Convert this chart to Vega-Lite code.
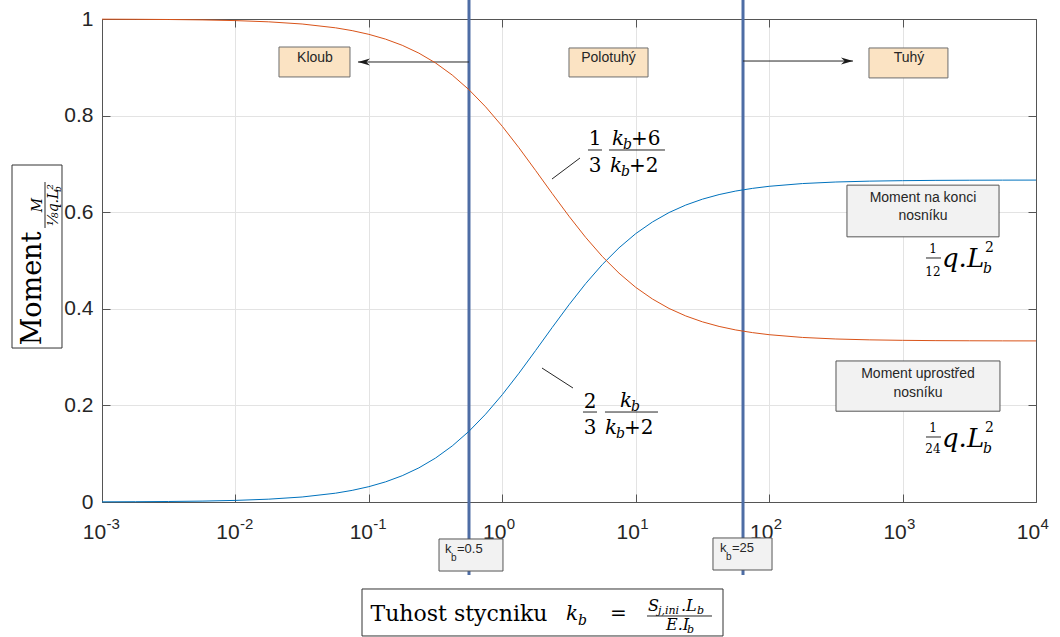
{
  "$schema": "https://vega.github.io/schema/vega-lite/v6.json",
  "width": 934,
  "height": 483,
  "autosize": {"type": "none"},
  "padding": {"left": 102, "top": 19, "right": 24, "bottom": 135},
  "background": "white",
  "config": {"view": {"stroke": null}},
  "datasets": {
    "curves": [
      {"k":0.001,"v":0.000333,"s":"konec"},{"k":0.001778,"v":0.000592,"s":"konec"},{"k":0.003162,"v":0.001053,"s":"konec"},{"k":0.005623,"v":0.001871,"s":"konec"},
      {"k":0.01,"v":0.003317,"s":"konec"},{"k":0.01778,"v":0.005876,"s":"konec"},{"k":0.03162,"v":0.01038,"s":"konec"},{"k":0.05623,"v":0.01823,"s":"konec"},
      {"k":0.07499,"v":0.0241,"s":"konec"},{"k":0.1,"v":0.03175,"s":"konec"},{"k":0.1334,"v":0.04169,"s":"konec"},{"k":0.1778,"v":0.05443,"s":"konec"},
      {"k":0.2371,"v":0.07066,"s":"konec"},{"k":0.3162,"v":0.09101,"s":"konec"},{"k":0.4217,"v":0.1161,"s":"konec"},{"k":0.5623,"v":0.1463,"s":"konec"},
      {"k":0.7499,"v":0.1818,"s":"konec"},{"k":1,"v":0.2222,"s":"konec"},{"k":1.334,"v":0.2667,"s":"konec"},{"k":1.778,"v":0.3137,"s":"konec"},
      {"k":2.371,"v":0.3616,"s":"konec"},{"k":3.162,"v":0.4083,"s":"konec"},{"k":4.217,"v":0.4522,"s":"konec"},{"k":5.623,"v":0.4918,"s":"konec"},
      {"k":7.499,"v":0.5263,"s":"konec"},{"k":10,"v":0.5556,"s":"konec"},{"k":13.34,"v":0.5797,"s":"konec"},{"k":17.78,"v":0.5993,"s":"konec"},
      {"k":23.71,"v":0.6148,"s":"konec"},{"k":31.62,"v":0.627,"s":"konec"},{"k":42.17,"v":0.6365,"s":"konec"},{"k":56.23,"v":0.6438,"s":"konec"},
      {"k":74.99,"v":0.6493,"s":"konec"},{"k":100,"v":0.6536,"s":"konec"},{"k":177.8,"v":0.6593,"s":"konec"},{"k":316.2,"v":0.6625,"s":"konec"},
      {"k":562.3,"v":0.6643,"s":"konec"},{"k":1000,"v":0.6653,"s":"konec"},{"k":1778,"v":0.6659,"s":"konec"},{"k":3162,"v":0.6662,"s":"konec"},
      {"k":5623,"v":0.6664,"s":"konec"},{"k":10000,"v":0.6665,"s":"konec"},
      {"k":0.001,"v":0.999667,"s":"uprostred"},{"k":0.001778,"v":0.999408,"s":"uprostred"},{"k":0.003162,"v":0.998947,"s":"uprostred"},{"k":0.005623,"v":0.998129,"s":"uprostred"},
      {"k":0.01,"v":0.996683,"s":"uprostred"},{"k":0.01778,"v":0.994124,"s":"uprostred"},{"k":0.03162,"v":0.98962,"s":"uprostred"},{"k":0.05623,"v":0.98177,"s":"uprostred"},
      {"k":0.07499,"v":0.9759,"s":"uprostred"},{"k":0.1,"v":0.96825,"s":"uprostred"},{"k":0.1334,"v":0.95831,"s":"uprostred"},{"k":0.1778,"v":0.94557,"s":"uprostred"},
      {"k":0.2371,"v":0.92934,"s":"uprostred"},{"k":0.3162,"v":0.90899,"s":"uprostred"},{"k":0.4217,"v":0.8839,"s":"uprostred"},{"k":0.5623,"v":0.8537,"s":"uprostred"},
      {"k":0.7499,"v":0.8182,"s":"uprostred"},{"k":1,"v":0.7778,"s":"uprostred"},{"k":1.334,"v":0.7333,"s":"uprostred"},{"k":1.778,"v":0.6863,"s":"uprostred"},
      {"k":2.371,"v":0.6384,"s":"uprostred"},{"k":3.162,"v":0.5917,"s":"uprostred"},{"k":4.217,"v":0.5478,"s":"uprostred"},{"k":5.623,"v":0.5082,"s":"uprostred"},
      {"k":7.499,"v":0.4737,"s":"uprostred"},{"k":10,"v":0.4444,"s":"uprostred"},{"k":13.34,"v":0.4203,"s":"uprostred"},{"k":17.78,"v":0.4007,"s":"uprostred"},
      {"k":23.71,"v":0.3852,"s":"uprostred"},{"k":31.62,"v":0.373,"s":"uprostred"},{"k":42.17,"v":0.3635,"s":"uprostred"},{"k":56.23,"v":0.3562,"s":"uprostred"},
      {"k":74.99,"v":0.3507,"s":"uprostred"},{"k":100,"v":0.3464,"s":"uprostred"},{"k":177.8,"v":0.3407,"s":"uprostred"},{"k":316.2,"v":0.3375,"s":"uprostred"},
      {"k":562.3,"v":0.3357,"s":"uprostred"},{"k":1000,"v":0.3347,"s":"uprostred"},{"k":1778,"v":0.3341,"s":"uprostred"},{"k":3162,"v":0.3338,"s":"uprostred"},
      {"k":5623,"v":0.3336,"s":"uprostred"},{"k":10000,"v":0.3335,"s":"uprostred"}
    ],
    "vlines": [{"k":0.563,"v":-0.151,"v2":1.04},{"k":63.7,"v":-0.151,"v2":1.04}],
    "rectsOrange": [
      {"k":0.02121,"k2":0.07222,"v":0.88,"v2":0.942},
      {"k":3.162,"k2":12.37,"v":0.88,"v2":0.94},
      {"k":560,"k2":2188,"v":0.878,"v2":0.94}
    ],
    "rectsGrey": [
      {"k":383,"k2":5284,"v":0.549,"v2":0.656},
      {"k":317,"k2":5370,"v":0.188,"v2":0.292},
      {"k":0.3356,"k2":1.012,"v":-0.1429,"v2":-0.0766},
      {"k":37.94,"k2":105.1,"v":-0.1408,"v2":-0.0745}
    ],
    "rectsFrame": [
      {"k":0.08884,"k2":45.1,"v":-0.2774,"v2":-0.1801},
      {"k":0.0002116,"k2":0.0005013,"v":0.3188,"v2":0.6977}
    ],
    "thinRules": [
      {"k":4.389,"k2":5.588,"v":0.7288,"v2":0.7288},
      {"k":6.306,"k2":16.57,"v":0.7288,"v2":0.7288},
      {"k":4.026,"k2":5.127,"v":0.1863,"v2":0.1863},
      {"k":5.884,"k2":14.69,"v":0.1863,"v2":0.1863},
      {"k":1498,"k2":1941,"v":0.5052,"v2":0.5052},
      {"k":1498,"k2":1941,"v":0.1346,"v2":0.1346},
      {"k":12.15,"k2":37.29,"v":-0.236,"v2":-0.236},
      {"k":0.000374,"k2":0.000374,"v":0.5673,"v2":0.6625},
      {"k":2.358,"k2":3.823,"v":0.6687,"v2":0.7122},
      {"k":1.984,"k2":3.388,"v":0.2774,"v2":0.236},
      {"k":0.0829,"k2":0.563,"v":0.911,"v2":0.911},
      {"k":63.7,"k2":425,"v":0.913,"v2":0.913}
    ],
    "arrowHeads": [{"k":0.0829,"v":0.911,"dir":"left"},{"k":425,"v":0.913,"dir":"right"}],
    "boxLabels": [
      {"k":0.03948,"v":0.911,"t":"Kloub"},
      {"k":6.25,"v":0.911,"t":"Polotuhý"},
      {"k":1117,"v":0.911,"t":"Tuhý"},
      {"k":1422,"v":0.6211,"t":"Moment na konci"},
      {"k":1422,"v":0.5839,"t":"nosníku"},
      {"k":1305,"v":0.2567,"t":"Moment uprostřed"},
      {"k":1305,"v":0.2174,"t":"nosníku"}
    ],
    "kbMain": [
      {"k":0.3721,"v":-0.1056,"t":"k"},{"k":0.4577,"v":-0.1056,"t":"=0.5"},
      {"k":42.82,"v":-0.1035,"t":"k"},{"k":52.68,"v":-0.1035,"t":"=25"}
    ],
    "kbSub": [{"k":0.4127,"v":-0.1222,"t":"b"},{"k":47.5,"v":-0.1201,"t":"b"}],
    "mathR20c": [
      {"k":4.953,"v":0.7391,"t":"1"},{"k":4.953,"v":0.6832,"t":"3"},
      {"k":4.544,"v":0.1946,"t":"2"},{"k":4.544,"v":0.1408,"t":"3"}
    ],
    "mathR20l": [
      {"k":9.218,"v":0.7391,"t":"+6"},{"k":8.906,"v":0.6832,"t":"+2"},
      {"k":8.17,"v":0.1408,"t":"+2"},{"k":6.416,"v":-0.2443,"t":"="}
    ],
    "mathI20l": [
      {"k":6.642,"v":0.7391,"t":"k"},{"k":6.416,"v":0.6832,"t":"k"},
      {"k":7.623,"v":0.1967,"t":"k"},{"k":5.884,"v":0.1408,"t":"k"},
      {"k":3.003,"v":-0.2443,"t":"k"}
    ],
    "mathI14l": [
      {"k":8.029,"v":0.7308,"t":"b"},{"k":7.756,"v":0.6749,"t":"b"},
      {"k":9.218,"v":0.1884,"t":"b"},{"k":7.114,"v":0.1325,"t":"b"},
      {"k":3.693,"v":-0.2547,"t":"b"},
      {"k":4007,"v":0.4741,"t":"b"},{"k":4007,"v":0.1014,"t":"b"}
    ],
    "mathR12c": [
      {"k":1690,"v":0.5155,"t":"1"},{"k":1690,"v":0.4679,"t":"12"},
      {"k":1690,"v":0.1449,"t":"1"},{"k":1690,"v":0.1014,"t":"24"}
    ],
    "mathI26l": [{"k":1974,"v":0.4865,"t":"q.L"},{"k":1974,"v":0.1139,"t":"q.L"}],
    "mathR14l": [{"k":4147,"v":0.5176,"t":"2"},{"k":4147,"v":0.1449,"t":"2"}],
    "mathI16l": [
      {"k":12.36,"v":-0.2257,"t":"S"},{"k":21.84,"v":-0.2257,"t":".L"},
      {"k":16.86,"v":-0.265,"t":"E.I"}
    ],
    "mathI11l": [
      {"k":14.69,"v":-0.2319,"t":"j,ini"},{"k":28.8,"v":-0.2319,"t":"b"},
      {"k":24.23,"v":-0.2712,"t":"b"}
    ],
    "yFrac": [{"k":0.0003551,"v":0.6149,"t":"M"},{"k":0.000468,"v":0.6149,"t":"⅛q.L²"}],
    "yFracSub": [{"k":0.0004928,"v":0.648,"t":"b"}]
  },
  "resolve": {"axis": {"x": "independent", "y": "independent"}},
  "layer": [
    {
      "data": {"name": "vlines"},
      "mark": {"type": "rule", "color": "#4E6DA5", "strokeWidth": 3},
      "encoding": {
        "x": {
          "field": "k", "type": "quantitative",
          "scale": {"type": "log", "domain": [0.001, 10000]},
          "axis": {
            "orient": "bottom",
            "values": [0.001, 0.01, 0.1, 1, 10, 100, 1000, 10000],
            "labelExpr": "['-3','-2','-1','0','1','2','3','4'][round(log(datum.value)/LN10)+3]",
            "grid": false, "domain": false, "ticks": false,
            "labelPadding": 26, "labelBaseline": "alphabetic", "labelAlign": "left", "labelOffset": 4,
            "labelFont": "Liberation Sans", "labelFontSize": 15, "labelColor": "#262626",
            "labelFlush": false, "labelOverlap": false, "title": null
          }
        },
        "y": {"field": "v", "type": "quantitative", "scale": {"domain": [0, 1], "nice": false, "zero": false}, "axis": null},
        "y2": {"field": "v2"}
      }
    },
    {
      "encoding": {
        "x": {
          "field": "k", "type": "quantitative",
          "scale": {"type": "log", "domain": [0.001, 10000]},
          "axis": {
            "orient": "bottom",
            "values": [0.001, 0.01, 0.1, 1, 10, 100, 1000, 10000],
            "labelExpr": "'10'",
            "grid": true, "gridColor": "#e3e3e3",
            "tickSize": -8, "tickColor": "#555", "domainColor": "#555",
            "labelPadding": 44, "labelBaseline": "alphabetic", "labelOffset": -8,
            "labelFont": "Liberation Sans", "labelFontSize": 21, "labelColor": "#262626",
            "labelFlush": false, "labelOverlap": false,
            "title": "Tuhost stycniku", "titleX": 268, "titleY": 118,
            "titleAlign": "left", "titleBaseline": "alphabetic",
            "titleFont": "DejaVu Serif", "titleFontSize": 22, "titleFontWeight": "normal", "titleColor": "#000"
          }
        },
        "y": {
          "field": "v", "type": "quantitative",
          "scale": {"domain": [0, 1], "nice": false, "zero": false},
          "axis": {
            "orient": "left",
            "values": [0, 0.2, 0.4, 0.6, 0.8, 1], "format": "~g",
            "grid": true, "gridColor": "#e3e3e3",
            "tickSize": -8, "tickColor": "#555", "domainColor": "#555",
            "labelPadding": 17, "labelFont": "Liberation Sans", "labelFontSize": 21, "labelColor": "#262626",
            "labelFlush": false, "labelOverlap": false,
            "title": "Moment", "titleX": -62, "titleY": 269, "titleAngle": 270,
            "titleAlign": "center", "titleBaseline": "alphabetic",
            "titleFont": "DejaVu Serif", "titleFontSize": 27, "titleFontWeight": "normal", "titleColor": "#000"
          }
        }
      },
      "layer": [
        {"data": {"name": "rectsOrange"}, "mark": {"type": "rect", "fill": "#FBE3C3", "stroke": "#6e6e6e", "strokeWidth": 1}, "encoding": {"x2": {"field": "k2"}, "y2": {"field": "v2"}}},
        {"data": {"name": "rectsGrey"}, "mark": {"type": "rect", "fill": "#F2F2F2", "stroke": "#555", "strokeWidth": 1}, "encoding": {"x2": {"field": "k2"}, "y2": {"field": "v2"}}},
        {"data": {"name": "rectsFrame"}, "mark": {"type": "rect", "filled": false, "stroke": "#333", "strokeWidth": 1}, "encoding": {"x2": {"field": "k2"}, "y2": {"field": "v2"}}},
        {"data": {"name": "thinRules"}, "mark": {"type": "rule", "color": "#262626", "strokeWidth": 1}, "encoding": {"x2": {"field": "k2"}, "y2": {"field": "v2"}}},
        {"data": {"name": "arrowHeads"}, "mark": {"type": "point", "filled": true, "color": "#1a1a1a", "opacity": 1, "size": 576, "strokeWidth": 0},
         "encoding": {"shape": {"field": "dir", "type": "nominal", "scale": {"domain": ["left", "right"], "range": ["M 0 0 L 1 -0.3 L 0.7 0 L 1 0.3 Z", "M 0 0 L -1 -0.3 L -0.7 0 L -1 0.3 Z"]}, "legend": null}}},
        {"data": {"name": "boxLabels"}, "mark": {"type": "text", "font": "Liberation Sans", "fontSize": 14, "align": "center", "baseline": "alphabetic", "color": "#262626"}, "encoding": {"text": {"field": "t"}}},
        {"data": {"name": "kbMain"}, "mark": {"type": "text", "font": "Liberation Sans", "fontSize": 13, "align": "left", "baseline": "alphabetic", "color": "#262626"}, "encoding": {"text": {"field": "t"}}},
        {"data": {"name": "kbSub"}, "mark": {"type": "text", "font": "Liberation Sans", "fontSize": 10, "align": "left", "baseline": "alphabetic", "color": "#262626"}, "encoding": {"text": {"field": "t"}}},
        {"data": {"name": "mathR20c"}, "mark": {"type": "text", "font": "DejaVu Serif", "fontSize": 20, "align": "center", "baseline": "alphabetic", "color": "#000"}, "encoding": {"text": {"field": "t"}}},
        {"data": {"name": "mathR20l"}, "mark": {"type": "text", "font": "DejaVu Serif", "fontSize": 20, "align": "left", "baseline": "alphabetic", "color": "#000"}, "encoding": {"text": {"field": "t"}}},
        {"data": {"name": "mathI20l"}, "mark": {"type": "text", "font": "DejaVu Serif", "fontStyle": "italic", "fontSize": 20, "align": "left", "baseline": "alphabetic", "color": "#000"}, "encoding": {"text": {"field": "t"}}},
        {"data": {"name": "mathI14l"}, "mark": {"type": "text", "font": "DejaVu Serif", "fontStyle": "italic", "fontSize": 14, "align": "left", "baseline": "alphabetic", "color": "#000"}, "encoding": {"text": {"field": "t"}}},
        {"data": {"name": "mathR12c"}, "mark": {"type": "text", "font": "DejaVu Serif", "fontSize": 12, "align": "center", "baseline": "alphabetic", "color": "#000"}, "encoding": {"text": {"field": "t"}}},
        {"data": {"name": "mathI26l"}, "mark": {"type": "text", "font": "DejaVu Serif", "fontStyle": "italic", "fontSize": 26, "align": "left", "baseline": "alphabetic", "color": "#000"}, "encoding": {"text": {"field": "t"}}},
        {"data": {"name": "mathR14l"}, "mark": {"type": "text", "font": "DejaVu Serif", "fontSize": 14, "align": "left", "baseline": "alphabetic", "color": "#000"}, "encoding": {"text": {"field": "t"}}},
        {"data": {"name": "mathI16l"}, "mark": {"type": "text", "font": "DejaVu Serif", "fontStyle": "italic", "fontSize": 16, "align": "left", "baseline": "alphabetic", "color": "#000"}, "encoding": {"text": {"field": "t"}}},
        {"data": {"name": "mathI11l"}, "mark": {"type": "text", "font": "DejaVu Serif", "fontStyle": "italic", "fontSize": 11, "align": "left", "baseline": "alphabetic", "color": "#000"}, "encoding": {"text": {"field": "t"}}},
        {"data": {"name": "yFrac"}, "mark": {"type": "text", "font": "DejaVu Serif", "fontStyle": "italic", "fontSize": 14, "angle": 270, "align": "center", "baseline": "alphabetic", "color": "#000"}, "encoding": {"text": {"field": "t"}}},
        {"data": {"name": "yFracSub"}, "mark": {"type": "text", "font": "DejaVu Serif", "fontStyle": "italic", "fontSize": 9, "angle": 270, "align": "center", "baseline": "alphabetic", "color": "#000"}, "encoding": {"text": {"field": "t"}}}
      ]
    },
    {
      "data": {"name": "curves"},
      "mark": {"type": "line", "strokeWidth": 1},
      "encoding": {
        "x": {
          "field": "k", "type": "quantitative",
          "scale": {"type": "log", "domain": [0.001, 10000]},
          "axis": {"orient": "top", "values": [0.001, 0.01, 0.1, 1, 10, 100, 1000, 10000], "labels": false, "grid": false, "tickSize": -8, "tickColor": "#555", "domainColor": "#555", "title": null}
        },
        "y": {
          "field": "v", "type": "quantitative",
          "scale": {"domain": [0, 1], "nice": false, "zero": false},
          "axis": {"orient": "right", "values": [0, 0.2, 0.4, 0.6, 0.8, 1], "labels": false, "grid": false, "tickSize": -8, "tickColor": "#555", "domainColor": "#555", "title": null}
        },
        "color": {"field": "s", "type": "nominal", "scale": {"domain": ["uprostred", "konec"], "range": ["#D95319", "#0072BD"]}, "legend": null}
      }
    }
  ]
}
